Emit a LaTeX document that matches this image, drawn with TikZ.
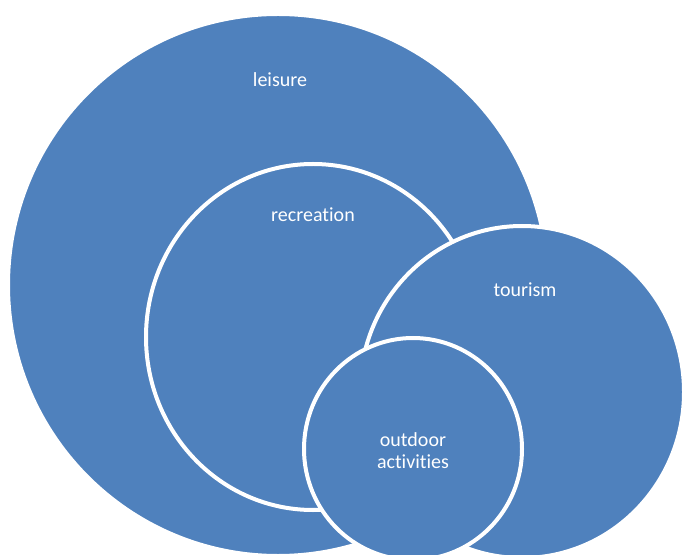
\documentclass[tikz,border=0pt]{standalone}
\usepackage{fontspec}
\setmainfont{Carlito}[Ligatures=NoCommon]
\usepackage{xcolor}
\definecolor{setblue}{RGB}{79,129,189}

\begin{document}
\begin{tikzpicture}[x=0.75pt,y=0.75pt,yscale=-1,xscale=1,
    setdisc/.style={fill=setblue, draw=white, line width=3pt},
    setname/.style={text=white, font=\fontsize{15}{16.5}\selectfont, align=center, inner sep=0.75pt}]
    \useasboundingbox (0,0) rectangle (684,555);
    \clip (0,0) rectangle (684,555);

    %Shape: Ellipse [leisure]
    \draw [setdisc] (278,285) ellipse [x radius=270, y radius=271];
    %Shape: Ellipse [recreation]
    \draw [setdisc] (313,337) ellipse [x radius=167, y radius=173];
    %Shape: Ellipse [tourism]
    \draw [setdisc] (522,392) ellipse [x radius=162, y radius=166];
    %Shape: Ellipse [outdoor activities]
    \draw [setdisc] (413,449) ellipse [x radius=109, y radius=111];

    % Text Node
    \node [setname] (leisure) at (280,80) {leisure};
    % Text Node
    \node [setname] (recreation) at (313,215) {recreation};
    % Text Node
    \node [setname] (tourism) at (525,290) {tourism};
    % Text Node
    \node [setname] (outdoor) at (413,451) {outdoor\\activities};

\end{tikzpicture}
\end{document}
